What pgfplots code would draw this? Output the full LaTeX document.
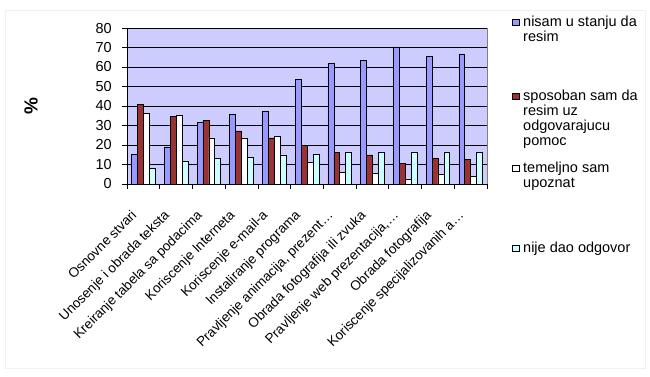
\documentclass[border=0pt]{standalone}
\usepackage{pgfplots}
\pgfplotsset{compat=1.18}
\usepackage{fontspec}
\setmainfont{Liberation Sans}
\definecolor{cblue}{HTML}{9999FF}
\definecolor{cred}{HTML}{993333}
\definecolor{ccyan}{HTML}{CCFFFF}
\definecolor{cbg}{HTML}{CCCCFF}
\newcommand{\lfont}{\fontsize{14.5}{15}\selectfont}
\newcommand{\xfont}{\fontsize{13.5}{14}\selectfont}
\begin{document}
\begin{tikzpicture}
\path[use as bounding box] (0,0) rectangle (650pt,376pt);
\draw[gray!12] (5pt,8pt) rectangle (645pt,366pt);
\begin{axis}[
  at={(127pt,192pt)}, anchor=south west,
  scale only axis, width=360pt, height=156pt,
  xmin=-0.5, xmax=10.5, ymin=0, ymax=80,
  ybar=0pt, bar width=5.9pt,
  axis background/.style={fill=cbg, draw=gray},
  axis x line=bottom, axis y line=left,
  axis line style={-, black, line width=0.9pt},
  xtick={-0.5,0.5,1.5,2.5,3.5,4.5,5.5,6.5,7.5,8.5,9.5,10.5},
  x tick label as interval,
  xticklabels={Osnovne stvari, Unosenje i obrada teksta, Kreiranje tabela sa podacima, Koriscenje Interneta, Koriscenje e-mail-a, Instaliranje programa, {Pravljenje animacija, prezent…}, Obrada fotografija ili zvuka, {Pravljenje web prezentacija,…}, Obrada fotografija, Koriscenje specijalizovanih a…},
  xticklabel style={font=\xfont, xshift=-13pt, yshift=-20pt, rotate=45, anchor=north east, inner sep=0pt},
  ytick={0,10,...,80},
  yticklabel style={font=\lfont, anchor=east, inner sep=0pt, xshift=-10pt},
  /pgf/number format/assume math mode=true,
  ymajorgrids, grid style={black, line width=0.8pt},
  tick align=outside, major tick length=5pt,
  tick style={black, line width=0.8pt},
  ylabel={\fontsize{19}{20}\selectfont\bfseries \%},
  every axis y label/.style={at={(axis description cs:0,0.5)}, xshift=-96pt, rotate=90, anchor=center},
  legend style={at={(axis description cs:1,1)}, anchor=north west, xshift=25pt, yshift=12.5pt,
    draw=none, fill=none, inner sep=0pt, row sep=0pt, column sep=4pt, font=\lfont,
    cells={anchor=base west}, nodes={inner sep=0pt, text depth=, text height=}},
  every axis plot post/.append style={legend image code/.code={\draw[#1, draw=black, line width=0.5pt] (0pt,0.5pt) rectangle (6.5pt,7pt);}},
]
\addplot[fill=cblue, draw=black, line width=0.6pt] coordinates {(0,15) (1,19) (2,31.5) (3,35.7) (4,37.4) (5,53.8) (6,61.9) (7,63.4) (8,70.3) (9,65.5) (10,66.7)};
\addlegendentry{\begin{tabular}[t]{@{}l@{}}nisam u stanju da\\resim\end{tabular}\rule[-63.5pt]{0pt}{0pt}}
\addplot[fill=cred, draw=black, line width=0.6pt] coordinates {(0,41) (1,34.7) (2,32.5) (3,27.2) (4,23.6) (5,20) (6,16.4) (7,14.9) (8,10.6) (9,13.3) (10,12.6)};
\addlegendentry{\begin{tabular}[t]{@{}l@{}}sposoban sam da\\resim uz\\odgovarajucu\\pomoc\end{tabular}\rule[-61.5pt]{0pt}{0pt}}
\addplot[fill=white, draw=black, line width=0.6pt] coordinates {(0,36.2) (1,35.2) (2,23.6) (3,23.6) (4,24.6) (5,11.1) (6,5.8) (7,5.5) (8,2.6) (9,5.0) (10,4.1)};
\addlegendentry{\begin{tabular}[t]{@{}l@{}}temeljno sam\\upoznat\end{tabular}\rule[-69.5pt]{0pt}{0pt}}
\addplot[fill=ccyan, draw=black, line width=0.6pt] coordinates {(0,8) (1,11.6) (2,13.3) (3,13.7) (4,14.9) (5,15.4) (6,16.4) (7,16.4) (8,16.4) (9,16.4) (10,16.4)};
\addlegendentry{nije dao odgovor}
\end{axis}
\end{tikzpicture}
\end{document}
